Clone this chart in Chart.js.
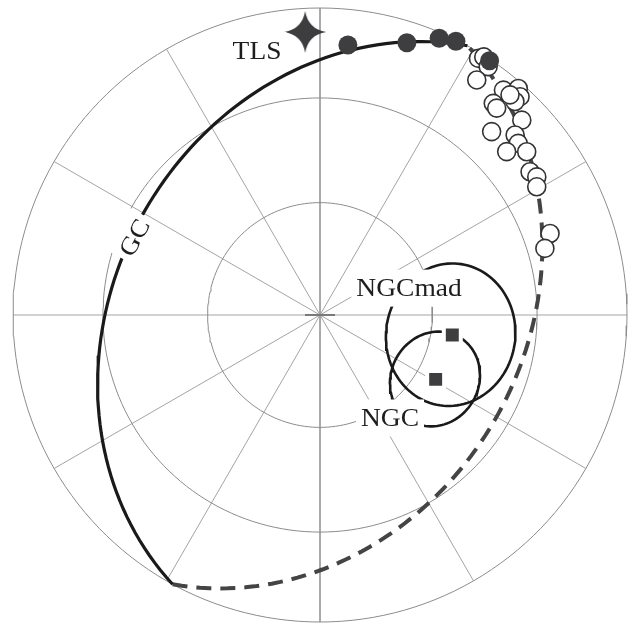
<!DOCTYPE html>
<html>
<head>
<meta charset="utf-8">
<script src="https://cdn.jsdelivr.net/npm/chart.js@4.4.1/dist/chart.umd.min.js"></script>
<style>
  html, body { margin: 0; padding: 0; background: #fff; }
  canvas { display: block; }
</style>
</head>
<body>
<canvas id="stereonet" width="634" height="624"></canvas>
<script>
// Equal-area (Schmidt) net, declination / inclination in degrees.
// Negative inclination = upper hemisphere (open symbols, dashed line).

// open circles: upper hemisphere directions
const openDec = [31.7, 32.4, 34.1, 33.7, 39.2, 41.2, 42.5, 42.4, 39.3, 40.5, 46.0,
                 43.1, 47.3, 49.1, 48.8, 51.7, 55.7, 57.5, 59.4, 70.5, 73.5, 40.8];
const openInc = [-2.0, -0.5, -2.6, -8.8, -6.1, -2.2, -4.0, -6.5, -11.9, -12.4, -9.5,
                 -19.3, -14.6, -15.7, -20.3, -15.3, -18.3, -17.4, -19.1, -21.6, -24.6, -5.9];

// filled circles: lower hemisphere directions
const filledDec = [5.9, 17.7, 23.3, 26.4, 33.7];
const filledInc = [12.6, 7.7, 2.1, 0.5, 0.5];

// site means with their a95 circles
const siteNames = ['NGCmad', 'NGC'];
const siteDec = [98.6, 119.1];
const siteInc = [54.1, 54.5];
const siteA95 = [18.0, 12.2];

// TLS reference direction (star)
const tlsDec = [357.0];
const tlsInc = [8.5];

// great circle GC, given by its pole
const gcPoleDec = 118.7;
const gcPoleInc = 56.0;

// net grid
const ringColat = [30, 60, 90];
const spokeAz = [0, 30, 60, 90, 120, 150];

const D2R = Math.PI / 180;

function project(dec, inc) {
  const r = Math.SQRT2 * Math.sin((90 - Math.abs(inc)) * D2R / 2);
  return { x: r * Math.sin(dec * D2R), y: r * Math.cos(dec * D2R) };
}
function toVec(dec, inc) {
  return [Math.cos(inc * D2R) * Math.cos(dec * D2R),
          Math.cos(inc * D2R) * Math.sin(dec * D2R),
          Math.sin(inc * D2R)];
}
function projVec(v) {
  const dec = Math.atan2(v[1], v[0]) / D2R;
  const inc = Math.asin(Math.max(-1, Math.min(1, v[2]))) / D2R;
  return project(dec, inc);
}
function cross(a, b) {
  return [a[1] * b[2] - a[2] * b[1], a[2] * b[0] - a[0] * b[2], a[0] * b[1] - a[1] * b[0]];
}
function norm(v) {
  const l = Math.hypot(v[0], v[1], v[2]);
  return [v[0] / l, v[1] / l, v[2] / l];
}

// great circle halves
const pole = toVec(gcPoleDec, gcPoleInc);
const strike = toVec(gcPoleDec - 90, 0);
let dip = norm(cross(pole, strike));
if (dip[2] < 0) dip = dip.map(c => -c);
const gcLower = [], gcUpper = [];
for (let t = 0; t <= 360; t += 2) {
  const c = Math.cos(t * D2R), s = Math.sin(t * D2R);
  const v = [0, 1, 2].map(i => strike[i] * c + dip[i] * s);
  if (t <= 180) gcLower.push(projVec(v));
  if (t >= 180) gcUpper.push(projVec(v));
}

// small circle around a direction
function smallCircle(dec, inc, alpha) {
  const cv = toVec(dec, inc);
  const u = norm(cross(cv, [0, 0, 1]));
  const w = cross(cv, u);
  const pts = [];
  for (let t = 0; t <= 360; t += 3) {
    const c = Math.cos(t * D2R), s = Math.sin(t * D2R);
    const v = [0, 1, 2].map(i => cv[i] * Math.cos(alpha * D2R) +
      Math.sin(alpha * D2R) * (u[i] * c + w[i] * s));
    pts.push(projVec(v));
  }
  return pts;
}

// four-pointed star marker
function starImage(r) {
  const cv = document.createElement('canvas');
  cv.width = cv.height = 2 * r + 2;
  const g = cv.getContext('2d');
  const c = r + 1, k = 3;
  g.fillStyle = '#3d3d40';
  g.beginPath();
  g.moveTo(c, c - r);
  g.quadraticCurveTo(c + k, c - k, c + r, c);
  g.quadraticCurveTo(c + k, c + k, c, c + r);
  g.quadraticCurveTo(c - k, c + k, c - r, c);
  g.quadraticCurveTo(c - k, c - k, c, c - r);
  g.fill();
  return cv;
}

const labels = [
  { text: 'NGCmad', x: 0.290, y: 0.086, rot: 0 },
  { text: 'NGC', x: 0.228, y: -0.337, rot: 0 },
  { text: 'TLS', x: -0.205, y: 0.860, rot: 0 },
  { text: 'GC', x: -0.603, y: 0.251, rot: -62 }
];

const labelPlugin = {
  id: 'netLabels',
  afterDatasetsDraw(chart) {
    const { ctx, scales: { x, y } } = chart;
    ctx.save();
    ctx.font = '25px "Liberation Serif", "Times New Roman", serif';
    ctx.textAlign = 'center';
    ctx.textBaseline = 'middle';
    labels.forEach(l => {
      const w = ctx.measureText(l.text).width * 1.1;
      ctx.save();
      ctx.translate(x.getPixelForValue(l.x), y.getPixelForValue(l.y));
      ctx.rotate(l.rot * D2R);
      ctx.fillStyle = '#fff';
      ctx.fillRect(-w / 2 - 5, -19, w + 10, 37);
      ctx.scale(1.1, 1);
      ctx.fillStyle = '#1e1e1e';
      ctx.fillText(l.text, 0, 1);
      ctx.restore();
    });
    ctx.restore();
  }
};

const datasets = [];

// grid rings
ringColat.forEach(a => {
  const pts = [];
  for (let t = 0; t <= 360; t += 2) pts.push(project(t, 90 - a));
  datasets.push({ data: pts, showLine: true, pointRadius: 0, borderColor: '#8c8c8c',
    borderWidth: 1, order: 20, clip: false });
});
// grid spokes
spokeAz.forEach(az => {
  datasets.push({ data: [project(az, 0), project(az + 180, 0)], showLine: true, pointRadius: 0,
    borderColor: '#9a9a9a', borderWidth: 0.9, order: 20, clip: false });
});
// centre mark
datasets.push({ data: [{ x: 0, y: 0 }], pointStyle: 'line', pointRadius: 15,
  borderColor: '#7a7a7a', borderWidth: 2, order: 19 });

// GC
datasets.push({ data: gcLower, showLine: true, pointRadius: 0, borderColor: '#1a1a1a',
  borderWidth: 3.2, order: 10, clip: false });
datasets.push({ data: gcUpper, showLine: true, pointRadius: 0, borderColor: '#444446',
  borderWidth: 4, borderDash: [15, 9], order: 10, clip: false });

// a95 circles
siteNames.forEach((n, i) => {
  datasets.push({ data: smallCircle(siteDec[i], siteInc[i], siteA95[i]), showLine: true,
    pointRadius: 0, borderColor: '#1a1a1a', borderWidth: 2.6, order: 8, clip: false });
});

// open circles
datasets.push({ data: openDec.map((d, i) => project(d, openInc[i])), pointRadius: 9,
  backgroundColor: '#fff', borderColor: '#333335', borderWidth: 1.6, order: 5, clip: false });
// filled circles
datasets.push({ data: filledDec.map((d, i) => project(d, filledInc[i])), pointRadius: 9.5,
  backgroundColor: '#3e3e41', borderWidth: 0, order: 4, clip: false });
// site means
datasets.push({ data: siteDec.map((d, i) => project(d, siteInc[i])), pointStyle: 'rect',
  pointRadius: 12, backgroundColor: '#3e3e41', borderColor: '#fff', borderWidth: 4, order: 3 });
// TLS star
datasets.push({ data: tlsDec.map((d, i) => project(d, tlsInc[i])), pointStyle: starImage(21),
  order: 2, clip: false });

new Chart(document.getElementById('stereonet'), {
  type: 'scatter',
  data: { datasets },
  options: {
    responsive: false,
    animation: false,
    devicePixelRatio: 1,
    layout: { autoPadding: false, padding: { left: 13, right: 7, top: 8, bottom: 2 } },
    scales: {
      x: { type: 'linear', min: -1, max: 1, display: false },
      y: { type: 'linear', min: -1, max: 1, display: false }
    },
    plugins: { legend: { display: false }, tooltip: { enabled: false } },
    elements: { line: { tension: 0 } }
  },
  plugins: [labelPlugin]
});
</script>
</body>
</html>
